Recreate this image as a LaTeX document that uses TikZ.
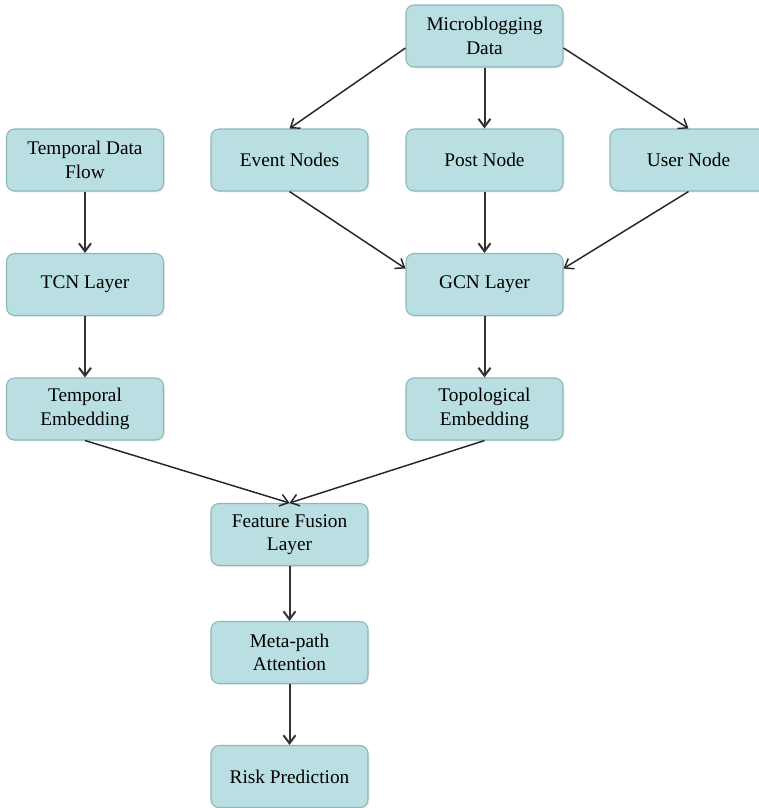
\documentclass[tikz,border=0pt]{standalone}
\usepackage{fontspec}
\setmainfont{Liberation Serif}
\usetikzlibrary{arrows.meta,shadows}
\definecolor{boxfill}{HTML}{B9DFE2}
\definecolor{boxline}{HTML}{8DB6B9}
\tikzset{
  box/.style={draw=boxline, line width=0.8pt, fill=boxfill, rounded corners=6pt,
    minimum width=117.75pt, minimum height=46.5pt, align=center, inner sep=2pt,
    font=\fontsize{14.5}{17.5}\selectfont,
    drop shadow={opacity=0.18, shadow xshift=1pt, shadow yshift=-1pt}},
  arr/.style={-{Straight Barb[length=6pt,width=9pt]}, line width=1.1pt, draw=black!85},
  varr/.style={arr, line width=1.5pt, draw=black!80}
}
\begin{document}
\begin{tikzpicture}[x=0.75pt,y=-0.75pt]
\useasboundingbox (0,0) rectangle (759,808);
\node[box] (micro) at (484.5,36) {Microblogging\\Data};
\node[box] (tdf) at (85,160) {Temporal Data\\Flow};
\node[box] (event) at (289.5,160) {Event Nodes};
\node[box] (post) at (484.5,160) {Post Node};
\node[box] (user) at (688.5,160) {User Node};
\node[box] (tcn) at (85,284.5) {TCN Layer};
\node[box] (gcn) at (484.5,284.5) {GCN Layer};
\node[box] (temb) at (85,409) {Temporal\\Embedding};
\node[box] (topo) at (484.5,409) {Topological\\Embedding};
\node[box] (ff) at (289.5,534.5) {Feature Fusion\\Layer};
\node[box] (meta) at (289.5,652.5) {Meta-path\\Attention};
\node[box] (risk) at (289.5,776.5) {Risk Prediction};

\draw[arr] ([yshift=-9pt]micro.west) -- (event.north);
\draw[varr] (micro.south) -- (post.north);
\draw[arr] ([yshift=-9pt]micro.east) -- (user.north);
\draw[arr] (event.south) -- ([yshift=12pt]gcn.west);
\draw[varr] (post.south) -- (gcn.north);
\draw[arr] (user.south) -- ([yshift=12pt]gcn.east);
\draw[varr] (tdf.south) -- (tcn.north);
\draw[varr] (tcn.south) -- (temb.north);
\draw[varr] (gcn.south) -- (topo.north);
\draw[arr] (temb.south) -- (ff.north);
\draw[arr] (topo.south) -- (ff.north);
\draw[varr] (ff.south) -- (meta.north);
\draw[varr] (meta.south) -- (risk.north);
\end{tikzpicture}
\end{document}
